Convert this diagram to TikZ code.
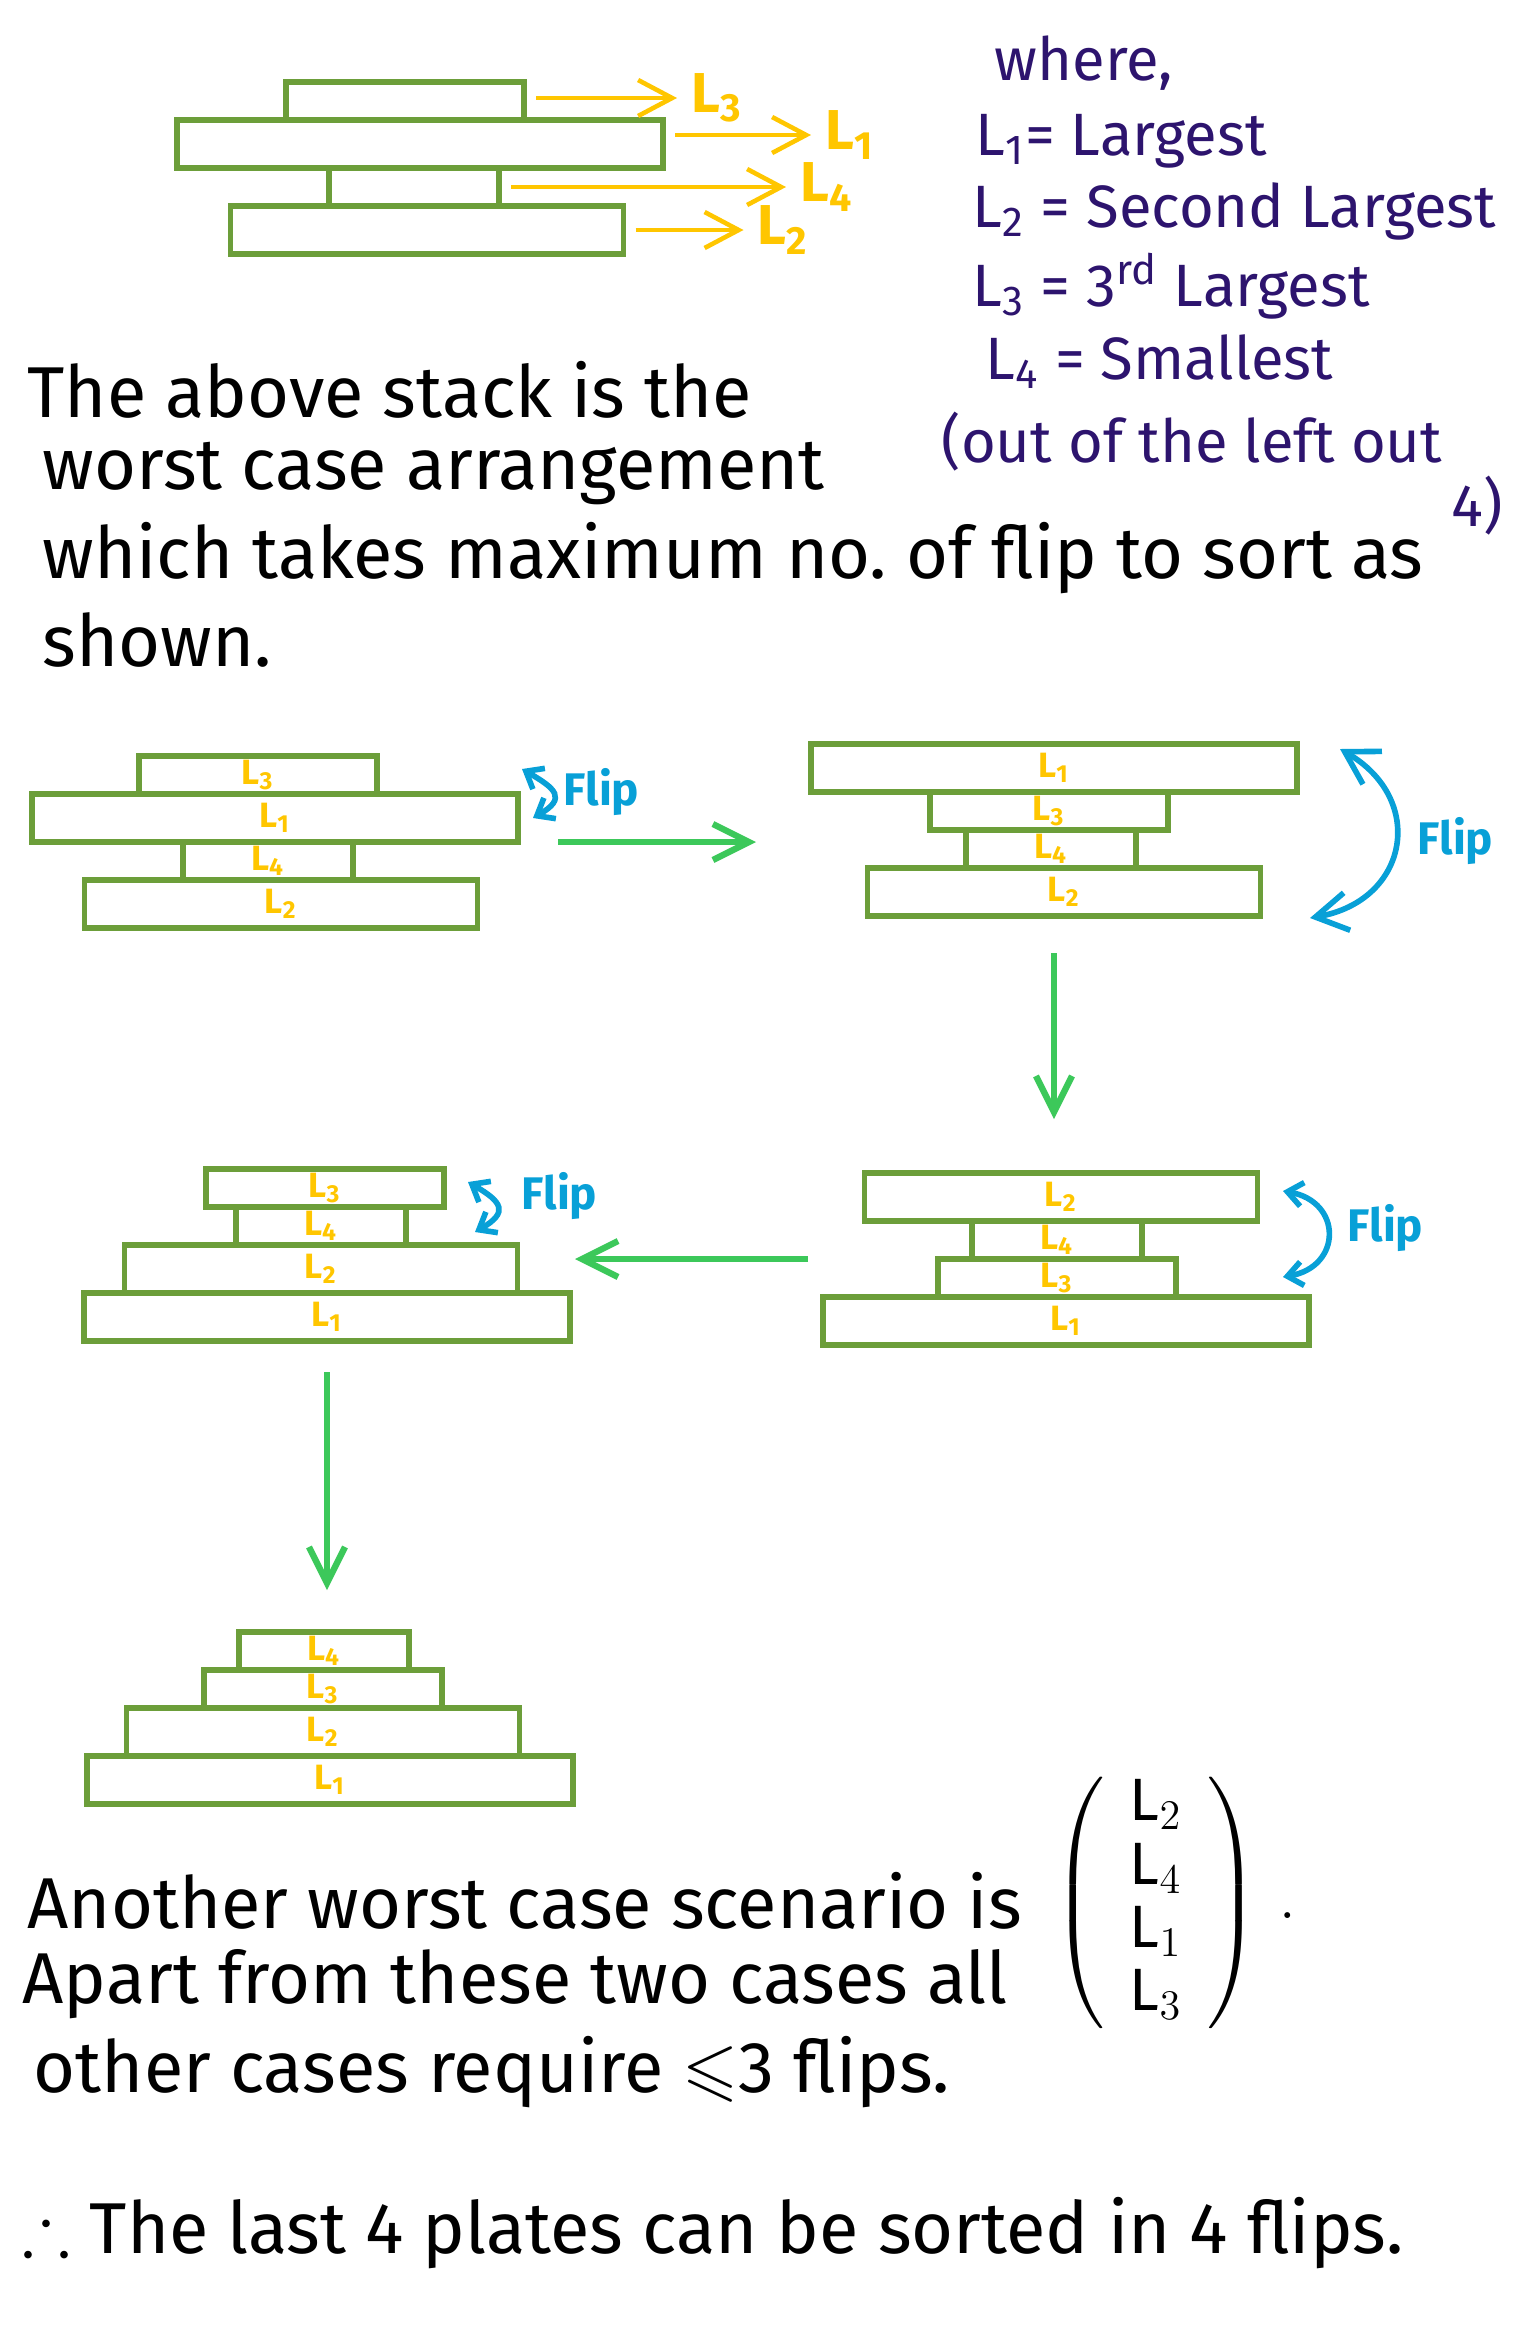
\documentclass[tikz,border=0pt]{standalone}
\usepackage{amsmath}
\usepackage{amssymb}
\usepackage{fontspec}
\setmainfont{Fira Sans}
\usepackage{tikz}
\usetikzlibrary{positioning}
\usetikzlibrary{calc}
\usetikzlibrary{fit}
\usetikzlibrary{arrows.meta}
\definecolor{PlateGreen}{RGB}{108,158,58}
\definecolor{TagYellow}{RGB}{255,198,0}
\definecolor{NotePurple}{RGB}{45,20,110}
\definecolor{FlipBlue}{RGB}{8,160,215}
\definecolor{MoveGreen}{RGB}{60,200,90}
\def\LOneW{4.86cm}
\def\LTwoW{3.93cm}
\def\LThreeW{2.38cm}
\def\LFourW{1.70cm}
\def\BigH{0.48cm}
\def\SmallH{0.38cm}

\begin{document}
\begin{tikzpicture}[
    plate/.style={draw=PlateGreen,line width=1.5pt,rectangle,inner sep=0pt,outer sep=0pt,
      text=TagYellow,font=\fontsize{10}{10}\selectfont\bfseries},
    pone/.style={plate,minimum width=\LOneW,minimum height=\BigH},
    ptwo/.style={plate,minimum width=\LTwoW,minimum height=\BigH},
    pthree/.style={plate,minimum width=\LThreeW,minimum height=\SmallH},
    pfour/.style={plate,minimum width=\LFourW,minimum height=\SmallH},
    stack/.style={inner sep=0pt,outer sep=0pt},
    tag/.style={text=TagYellow,inner sep=1pt,font=\fontsize{16}{16}\selectfont\bfseries},
    tagarrow/.style={draw=TagYellow,line width=1.3pt,-{Straight Barb[length=3.4mm,width=3.6mm]},
      shorten <=1.2mm,shorten >=1mm},
    movearrow/.style={draw=MoveGreen,line width=1.8pt,-{Straight Barb[length=3.6mm,width=3.6mm]}},
    fliparrow/.style={draw=FlipBlue,line width=1.6pt,
      {Straight Barb[length=1.5mm,width=2.4mm]}-{Straight Barb[length=1.5mm,width=2.4mm]}},
    bigfliparrow/.style={draw=FlipBlue,line width=1.6pt,
      {Straight Barb[length=3.2mm,width=3.8mm]}-{Straight Barb[length=3.2mm,width=3.8mm]}},
    fliptext/.style={text=FlipBlue,anchor=west,inner sep=0pt,font=\fontsize{13}{13}\selectfont\bfseries},
    note/.style={text=NotePurple,anchor=west,inner sep=0pt,font=\fontsize{17}{17}\selectfont},
    prose/.style={text=black,anchor=west,inner sep=0pt,font=\fontsize{20.5}{20.5}\selectfont},
  ]
  \useasboundingbox (0,0) rectangle (15.36,-23.34);
  %
  \node[pthree] (t3) at (4.05,-1.01) {};
  \node[pone,below=0pt of t3,xshift=1.5mm] (t1) {};
  \node[pfour,below=0pt of t1,xshift=-0.6mm] (t4) {};
  \node[ptwo,below=0pt of t4,xshift=1.3mm] (t2) {};
  %
  \node[tag,right=1.63cm of t3,yshift=0.3mm] (lt3) {L\textsubscript{3}};
  \node[tag,right=1.58cm of t1,yshift=0.9mm] (lt1) {L\textsubscript{1}};
  \node[tag,right=2.97cm of t4] (lt4) {L\textsubscript{4}};
  \node[tag,right=1.30cm of t2] (lt2) {L\textsubscript{2}};
  \draw[tagarrow] (t3.east |- lt3) -- (lt3.west);
  \draw[tagarrow] (t1.east |- lt1) -- (lt1.west);
  \draw[tagarrow] (t4.east |- lt4) -- (lt4.west);
  \draw[tagarrow] (t2.east |- lt2) -- (lt2.west);
  %
  \node[note] (n0) at (9.94,-0.63) {where,};
  \node[note] (n1) at (9.75,-1.41) {L\textsubscript{1}= Largest};
  \node[note] (n2) at (9.72,-2.11) {L\textsubscript{2} = Second Largest};
  \node[note] (n3) at (9.72,-2.86) {L\textsubscript{3} = 3\textsuperscript{rd} Largest};
  \node[note] (n4) at (9.85,-3.62) {L\textsubscript{4} = Smallest};
  \node[note] (n5) at (9.41,-4.42) {(out of the left out};
  \node[note] (n6) at (14.51,-5.06) {4)};
  %
  \node[prose] (p1) at (0.27,-3.90) {The above stack is the};
  \node[prose] (p2) at (0.42,-4.73) {worst case arrangement};
  \node[prose] (p3) at (0.42,-5.58) {which takes maximum no.\ of flip to sort as};
  \node[prose] (p4) at (0.42,-6.40) {shown.};
  %
  \node[pthree] (a3) at (2.58,-7.75) {L\textsubscript{3}};
  \node[pone,below=0pt of a3,xshift=1.7mm] (a1) {L\textsubscript{1}};
  \node[pfour,below=0pt of a1,xshift=-0.7mm] (a4) {L\textsubscript{4}};
  \node[ptwo,below=0pt of a4,xshift=1.3mm] (a2) {L\textsubscript{2}};
  \node[stack,fit=(a3)(a1)(a4)(a2)] (sa) {};
  %
  \node[pone] (b1) at (10.54,-7.68) {L\textsubscript{1}};
  \node[pthree,below=0pt of b1,xshift=-0.5mm] (b3) {L\textsubscript{3}};
  \node[pfour,below=0pt of b3,xshift=0.2mm] (b4) {L\textsubscript{4}};
  \node[ptwo,below=0pt of b4,xshift=1.3mm] (b2) {L\textsubscript{2}};
  \node[stack,fit=(b1)(b3)(b4)(b2)] (sb) {};
  %
  \node[ptwo] (c2) at (10.61,-11.97) {L\textsubscript{2}};
  \node[pfour,below=0pt of c2,xshift=-0.4mm] (c4) {L\textsubscript{4}};
  \node[pthree,below=0pt of c4] (c3) {L\textsubscript{3}};
  \node[pone,below=0pt of c3,xshift=0.9mm] (c1) {L\textsubscript{1}};
  \node[stack,fit=(c2)(c4)(c3)(c1)] (sc) {};
  %
  \node[pthree] (d3) at (3.25,-11.88) {L\textsubscript{3}};
  \node[pfour,below=0pt of d3,xshift=-0.4mm] (d4) {L\textsubscript{4}};
  \node[ptwo,below=0pt of d4] (d2) {L\textsubscript{2}};
  \node[pone,below=0pt of d2,xshift=0.6mm] (d1) {L\textsubscript{1}};
  \node[stack,fit=(d3)(d4)(d2)(d1)] (sd) {};
  %
  \node[pfour] (e4) at (3.24,-16.51) {L\textsubscript{4}};
  \node[pthree,below=0pt of e4,xshift=-0.1mm] (e3) {L\textsubscript{3}};
  \node[ptwo,below=0pt of e3] (e2) {L\textsubscript{2}};
  \node[pone,below=0pt of e2,xshift=0.7mm] (e1) {L\textsubscript{1}};
  \node[stack,fit=(e4)(e3)(e2)(e1)] (se) {};
  %
  \draw[movearrow,shorten <=4mm,shorten >=5.5mm] (sa.east) -- (sa.east -| sb.west);
  \draw[movearrow,shorten <=3.7mm,shorten >=5.4mm] (sb.south) -- (sb.south |- sc.north);
  \draw[movearrow,shorten <=1.5mm,shorten >=0.5mm] (sc.west) -- (sc.west -| sd.east);
  \draw[movearrow,shorten <=3.1mm,shorten >=4.2mm] (sd.south) -- (sd.south |- se.north);
  %
  \coordinate (fa1) at ($(a1.east)+(0.04,0.49)$);
  \coordinate (fa2) at ($(a1.east)+(0.15,0.00)$);
  \coordinate (fb1) at ($(b1.east)+(0.43,0.19)$);
  \coordinate (fb2) at ($(b2.east)+(0.495,-0.26)$);
  \coordinate (fc1) at ($(c2.east)+(0.255,0.06)$);
  \coordinate (fc2) at ($(c2.east)+(0.255,-0.80)$);
  \coordinate (fd1) at ($(d3.east)+(0.24,0.06)$);
  \coordinate (fd2) at ($(d3.east)+(0.31,-0.44)$);
  \draw[fliparrow] (fa1) to[out=-30,in=30,looseness=2] (fa2);
  \draw[bigfliparrow] (fb1) to[bend left=70,looseness=1.5] (fb2);
  \draw[fliparrow] (fc1) to[bend left=80,looseness=1.8] (fc2);
  \draw[fliparrow] (fd1) to[out=-30,in=30,looseness=2] (fd2);
  \node[fliptext] (fla) at (5.63,-7.92) {Flip};
  \node[fliptext] (flb) at (14.17,-8.41) {Flip};
  \node[fliptext] (flc) at (13.47,-12.28) {Flip};
  \node[fliptext] (fld) at (5.21,-11.96) {Flip};
  %
  \node[prose] (p5) at (0.27,-19.01) {Another worst case scenario is};
  \node[prose] (p6) at (0.22,-19.84) {Apart from these two cases all};
  \node[prose] (p7) at (0.33,-20.72) {other cases require $\leqslant$3 flips.};
  \node[anchor=west,inner sep=0pt,font=\fontsize{17}{18}\selectfont] (mat) at (10.52,-19.03)
    {$\begin{pmatrix}\hspace{2.5mm}\text{L}_2\hspace{2.5mm}\\\text{L}_4\\\text{L}_1\\\text{L}_3\end{pmatrix}\,.$};
  \node[prose] (p8) at (0.22,-22.33) {$\therefore$ The last 4 plates can be sorted in 4 flips.};
\end{tikzpicture}
\end{document}
